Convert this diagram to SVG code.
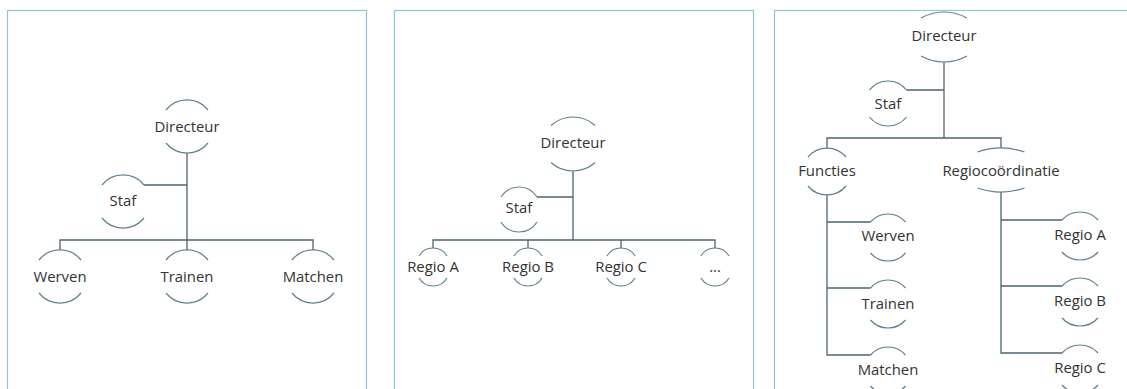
<svg xmlns="http://www.w3.org/2000/svg" width="1127" height="389" viewBox="0 0 1127 389">
<style>
.panel{fill:#fff;stroke:#8ec5d9;stroke-width:1.2}
.arc{fill:none;stroke:#5f7f8c;stroke-width:1.2}
.con{fill:none;stroke:#4a6572;stroke-width:1.3}
text{font-family:"Open Sans","Noto Sans","Liberation Sans",sans-serif;font-size:14.9px;fill:#333;text-anchor:middle}
</style>
<rect width="1127" height="389" fill="#fff"/>
<g id="panels">
<rect class="panel" x="7.5" y="10.5" width="359" height="420"/>
<rect class="panel" x="394.5" y="10.5" width="359" height="420"/>
<rect class="panel" x="774.5" y="10.5" width="360" height="420"/>
</g>
<g id="connectors">
<path class="con" d="M187,153V250M144,185H187M60,250V240H313V250"/>
<path class="con" d="M573,171V240M537,197H573M433,248V240H715V248M528,240V248M621,240V248"/>
<path class="con" d="M944,62V138M906.5,90H944M827,148V138H1001V148M827,195V355H870.5M827,222H870.5M827,288H870.5M1001,192V353H1062M1001,220H1062M1001,286H1062"/>
</g>
<g id="p1-directeur"><path class="arc" d="M166,110A27,27 0 0 1 208,110M166,143A27,27 0 0 0 208,143"/><text x="187" y="132">Directeur</text></g>
<g id="p1-staf"><path class="arc" d="M102,185A27,27 0 0 1 144,185M102,218A27,27 0 0 0 144,218"/><text x="123" y="206">Staf</text></g>
<g id="p1-werven"><path class="arc" d="M39,260A27,27 0 0 1 81,260M39,293A27,27 0 0 0 81,293"/><text x="60" y="282">Werven</text></g>
<g id="p1-trainen"><path class="arc" d="M166,260A27,27 0 0 1 208,260M166,293A27,27 0 0 0 208,293"/><text x="187" y="282">Trainen</text></g>
<g id="p1-matchen"><path class="arc" d="M292,260A27,27 0 0 1 334,260M292,293A27,27 0 0 0 334,293"/><text x="313" y="282">Matchen</text></g>

<g id="p2-directeur"><path class="arc" d="M551,125.5A32.7,32.7 0 0 1 595,125.5M551,162.5A32.7,32.7 0 0 0 595,162.5"/><text x="573" y="148">Directeur</text></g>
<g id="p2-staf"><path class="arc" d="M501,197A21.2,21.2 0 0 1 537,197M501,222A21.2,21.2 0 0 0 537,222"/><text x="519" y="213">Staf</text></g>
<g id="p2-regio-a"><path class="arc" d="M419,256A16.25,16.25 0 0 1 447,256M419,278A16.25,16.25 0 0 0 447,278"/><text x="433" y="272">Regio A</text></g>
<g id="p2-regio-b"><path class="arc" d="M514,256A16.25,16.25 0 0 1 542,256M514,278A16.25,16.25 0 0 0 542,278"/><text x="528" y="272">Regio B</text></g>
<g id="p2-regio-c"><path class="arc" d="M607,256A16.25,16.25 0 0 1 635,256M607,278A16.25,16.25 0 0 0 635,278"/><text x="621" y="272">Regio C</text></g>
<g id="p2-more"><path class="arc" d="M701,256A16.25,16.25 0 0 1 729,256M701,278A16.25,16.25 0 0 0 729,278"/><text x="715" y="272">...</text></g>

<g id="p3-directeur"><path class="arc" d="M921,18A47,47 0 0 1 967,18M921,56A47,47 0 0 0 967,56"/><text x="944" y="41">Directeur</text></g>
<g id="p3-staf"><path class="arc" d="M869.5,90A23.5,23.5 0 0 1 906.5,90M869.5,117A23.5,23.5 0 0 0 906.5,117"/><text x="888" y="109">Staf</text></g>
<g id="p3-functies"><path class="arc" d="M808,157A24.6,24.6 0 0 1 846,157M808,186A24.6,24.6 0 0 0 846,186"/><text x="827" y="176">Functies</text></g>
<g id="p3-regiocoordinatie"><path class="arc" d="M977.5,152A71,71 0 0 1 1024.5,152M977.5,188A71,71 0 0 0 1024.5,188"/><text x="1001" y="176">Regiocoördinatie</text></g>
<g id="p3-werven"><path class="arc" d="M870.5,222A23.1,23.1 0 0 1 905.5,222M870.5,253A23.1,23.1 0 0 0 905.5,253"/><text x="888" y="241">Werven</text></g>
<g id="p3-trainen"><path class="arc" d="M870.5,288A23.1,23.1 0 0 1 905.5,288M870.5,320A23.1,23.1 0 0 0 905.5,320"/><text x="888" y="309">Trainen</text></g>
<g id="p3-matchen"><path class="arc" d="M870.5,355A23.1,23.1 0 0 1 905.5,355M870.5,386A23.1,23.1 0 0 0 905.5,386"/><text x="888" y="375">Matchen</text></g>
<g id="p3-regio-a"><path class="arc" d="M1062,220A24.25,24.25 0 0 1 1098,220M1062,252A24.25,24.25 0 0 0 1098,252"/><text x="1080" y="240">Regio A</text></g>
<g id="p3-regio-b"><path class="arc" d="M1062,286A24.25,24.25 0 0 1 1098,286M1062,318A24.25,24.25 0 0 0 1098,318"/><text x="1080" y="306">Regio B</text></g>
<g id="p3-regio-c"><path class="arc" d="M1062,353A24.25,24.25 0 0 1 1098,353M1062,385A24.25,24.25 0 0 0 1098,385"/><text x="1080" y="373">Regio C</text></g>
</svg>
